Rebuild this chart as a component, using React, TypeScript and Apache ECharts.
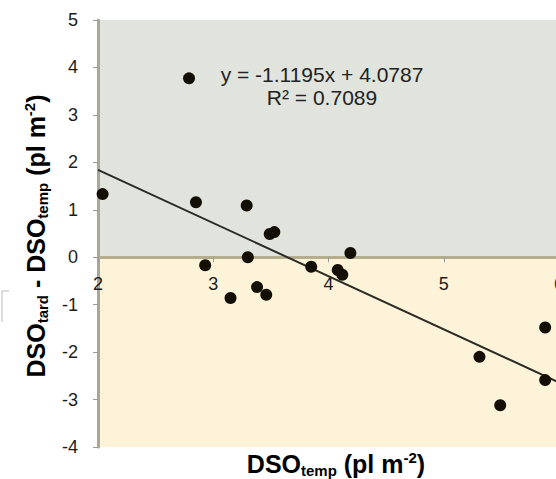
import React, { useEffect, useRef } from "react";
import * as echarts from "echarts";

// Scatter data (DSO_temp, DSO_tard - DSO_temp)
const dsoTemp = [2.04, 2.79, 2.85, 2.93, 3.15, 3.29, 3.30, 3.38, 3.46, 3.49, 3.53, 3.85, 4.08, 4.12, 4.19, 5.31, 5.49, 5.88, 5.88];
const dsoDiff = [1.33, 3.77, 1.16, -0.17, -0.86, 1.09, 0.0, -0.63, -0.79, 0.49, 0.53, -0.20, -0.27, -0.37, 0.09, -2.10, -3.12, -1.48, -2.59];

// Linear trend line end points (y = -1.1195x + 4.0787)
const trendX = [2, 6];
const trendY = [1.84, -2.64];

// Shaded bands (y ranges)
const bandFrom = [0, -4];
const bandTo = [5, 0];

const equationText = "y = -1.1195x + 4.0787";
const r2Text = "R\u00b2 = 0.7089";

const FONT = "'Liberation Sans', Arial, sans-serif";

export default function App() {
  const ref = useRef<HTMLDivElement>(null);

  useEffect(() => {
    if (!ref.current) return;
    const chart = echarts.init(ref.current, undefined, { renderer: "svg" });
    const bandColors = ["#e0e4dc", "#fdf3d8"];
    const points = dsoTemp.map((x, i) => [x, dsoDiff[i]]);
    const trend = trendX.map((x, i) => [x, trendY[i]]);

    const titleRich = {
      b: { fontSize: 25, fontWeight: "bold", fontFamily: FONT, color: "#111", lineHeight: 28 },
      s: { fontSize: 15, fontWeight: "bold", fontFamily: FONT, color: "#111", lineHeight: 15, verticalAlign: "bottom" },
      p: { fontSize: 15, fontWeight: "bold", fontFamily: FONT, color: "#111", lineHeight: 15, verticalAlign: "top" },
    };

    const option: any = {
      animation: false,
      grid: { left: 98, right: -3, top: 20, bottom: 32, containLabel: false, outerBoundsMode: "none" },
      xAxis: {
        type: "value",
        min: 2,
        max: 6,
        interval: 1,
        z: 3,
        offset: -189.8,
        axisLine: { show: true, onZero: false, lineStyle: { color: "#b5ae8e", width: 3 } },
        axisTick: { show: true, length: 5, lineStyle: { color: "#999" } },
        axisLabel: { margin: 18, fontSize: 18, color: "#1c1c1c", fontFamily: FONT },
        splitLine: { show: false },
      },
      yAxis: {
        type: "value",
        min: -4,
        max: 5,
        interval: 1,
        z: 3,
        axisLine: { show: true, onZero: false, lineStyle: { color: "#a9a795", width: 3 } },
        axisTick: { show: true, length: 5, lineStyle: { color: "#999" } },
        axisLabel: { margin: 20, fontSize: 18, color: "#1c1c1c", fontFamily: FONT },
        splitLine: { show: false },
      },
      series: [
        {
          type: "line",
          data: trend,
          symbol: "none",
          z: 4,
          lineStyle: { color: "#2b2b25", width: 2 },
          markArea: {
            silent: true,
            z: 1,
            data: bandFrom.map((f, i) => [
              { yAxis: f, itemStyle: { color: bandColors[i] } },
              { yAxis: bandTo[i] },
            ]),
          },
        },
        {
          type: "scatter",
          data: points,
          symbolSize: 12,
          z: 5,
          itemStyle: { color: "#140f05", opacity: 1 },
        },
      ],
      graphic: [
        {
          type: "text",
          x: 322,
          y: 74,
          z: 10,
          style: { text: equationText, fontSize: 21, fontFamily: FONT, fill: "#222", align: "center", verticalAlign: "middle" },
        },
        {
          type: "text",
          x: 322,
          y: 97,
          z: 10,
          style: { text: r2Text, fontSize: 21, fontFamily: FONT, fill: "#222", align: "center", verticalAlign: "middle" },
        },
        {
          type: "text",
          x: 336,
          y: 464,
          z: 10,
          style: {
            text: "{b|DSO}{s|temp}{b| (pl m}{p|-2}{b|)}",
            rich: titleRich,
            align: "center",
            verticalAlign: "middle",
          },
        },
        {
          type: "text",
          x: 36,
          y: 236,
          rotation: Math.PI / 2,
          z: 10,
          style: {
            text: "{b|DSO}{s|tard}{b| - DSO}{s|temp}{b| (pl m}{p|-2}{b|)}",
            rich: titleRich,
            align: "center",
            verticalAlign: "middle",
          },
        },
        {
          type: "polyline",
          z: 10,
          shape: { points: [[9, 291], [2, 291], [2, 322]] },
          style: { stroke: "#bbb", lineWidth: 1, fill: null },
        },
      ],
    };
    chart.setOption(option);
    return () => chart.dispose();
  }, []);

  return <div ref={ref} style={{ position: "absolute", left: 0, top: 0, width: 556, height: 479 }} />;
}
